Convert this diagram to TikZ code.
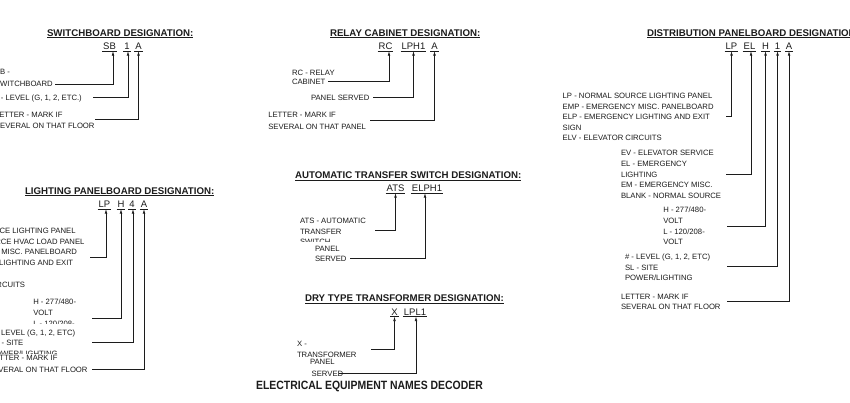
\documentclass[tikz,border=0pt]{standalone}
\usepackage{fontspec}
\setmainfont{Liberation Sans}
\usetikzlibrary{arrows.meta}
\definecolor{ink}{RGB}{28,28,28}

\begin{document}
\begin{tikzpicture}[x=1pt,y=-1pt,
  lbl/.style={inner sep=0pt,outer sep=0pt,anchor=base west,text=ink,font=\fontsize{7.7}{9.2}\selectfont},
  wipe/.style={lbl,fill=white,text depth=2pt},
  ttl/.style={inner xsep=0pt,inner ysep=1.8pt,outer sep=0pt,anchor=base west,text=ink,font=\bfseries\fontsize{9.7}{11.6}\selectfont},
  code/.style={inner xsep=1pt,inner ysep=1.5pt,outer sep=0pt,anchor=base,text=ink,font=\fontsize{9.5}{11.4}\selectfont},
  head/.style={inner sep=0pt,outer sep=0pt,anchor=base,text=ink,xscale=0.87,font=\bfseries\fontsize{12}{14.4}\selectfont},
  tline/.style={draw=ink,line width=1.1pt},
  uline/.style={draw=ink,line width=0.6pt},
  lead/.style={draw=ink,line width=0.6pt,-{Latex[length=4.5pt,width=2.6pt]}}]
\path[use as bounding box] (0,0) rectangle (850,402);
\path[fill=white,draw=none] (0,0) rectangle (850,402);
\clip (0,0) rectangle (850,402);

% switchboard
\node[ttl] (swT) at (47,36) {SWITCHBOARD DESIGNATION:};
\draw[tline] (swT.south west) -- (swT.south east);
\node[code] (swSB) at (109.5,49.5) {SB};
\node[code] (sw1) at (127,49.5) {1};
\node[code] (swA) at (138.5,49.5) {A};
\draw[uline] (swSB.south west) -- (swSB.south east);
\draw[uline] (sw1.south west) -- (sw1.south east);
\draw[uline] (swA.south west) -- (swA.south east);
\node[lbl] (swL1) at (-5,74) {SB -};
\node[lbl] (swL2) at (-5,86.7) {SWITCHBOARD};
\node[lbl] (swL3) at (-5.5,100) {\# - LEVEL (G, 1, 2, ETC.)};
\node[lbl] (swL4) at (-5,117) {LETTER - MARK IF};
\node[lbl] (swL5) at (-5,128.7) {SEVERAL ON THAT FLOOR};
\coordinate (swa) at (55,84);
\coordinate (swb) at (93,97.3);
\coordinate (swc) at (95,119.3);
\draw[lead] (swa) -| ([xshift=3.5pt]swSB.south);
\draw[lead] (swb) -| ([xshift=1pt]sw1.south);
\draw[lead] (swc) -| (swA.south);

% relay cabinet
\node[ttl] (rcT) at (330,36) {RELAY CABINET DESIGNATION:};
\draw[tline] (rcT.south west) -- (rcT.south east);
\node[code] (rcRC) at (385.5,49.5) {RC};
\node[code] (rcLPH) at (413.5,49.5) {LPH1};
\node[code] (rcA) at (434.5,49.5) {A};
\draw[uline] (rcRC.south west) -- (rcRC.south east);
\draw[uline] (rcLPH.south west) -- (rcLPH.south east);
\draw[uline] (rcA.south west) -- (rcA.south east);
\node[lbl] (rcL1) at (292,75) {RC - RELAY};
\node[lbl] (rcL2) at (292,84.7) {CABINET};
\node[lbl] (rcL3) at (311,100.3) {PANEL SERVED};
\node[lbl] (rcL4) at (268.3,117.3) {LETTER - MARK IF};
\node[lbl] (rcL5) at (268.3,129) {SEVERAL ON THAT PANEL};
\coordinate (rca) at (328,81.7);
\coordinate (rcb) at (373,97.7);
\coordinate (rcc) at (370,120);
\draw[lead] (rca) -| ([xshift=3.5pt]rcRC.south);
\draw[lead] (rcb) -| (rcLPH.south);
\draw[lead] (rcc) -| (rcA.south);

% distribution panelboard
\node[ttl] (dpT) at (647,36) {DISTRIBUTION PANELBOARD DESIGNATION:};
\draw[tline] (dpT.south west) -- (dpT.south east);
\node[code] (dpLP) at (731.5,49.5) {LP};
\node[code] (dpEL) at (749.5,49.5) {EL};
\node[code] (dpH) at (765.5,49.5) {H};
\node[code] (dp1) at (777.5,49.5) {1};
\node[code] (dpA) at (789,49.5) {A};
\draw[uline] (dpLP.south west) -- (dpLP.south east);
\draw[uline] (dpEL.south west) -- (dpEL.south east);
\draw[uline] (dpH.south west) -- (dpH.south east);
\draw[uline] (dp1.south west) -- (dp1.south east);
\draw[uline] (dpA.south west) -- (dpA.south east);
\node[lbl] (dpL1) at (562.7,98.3) {LP - NORMAL SOURCE LIGHTING PANEL};
\node[lbl] (dpL2) at (562.7,109) {EMP - EMERGENCY MISC. PANELBOARD};
\node[lbl] (dpL3) at (562.7,119.5) {ELP - EMERGENCY LIGHTING AND EXIT};
\node[lbl] (dpL4) at (562.7,130) {SIGN};
\node[lbl] (dpL5) at (562.7,140.5) {ELV - ELEVATOR CIRCUITS};
\node[lbl] (dpL6) at (621,155.7) {EV - ELEVATOR SERVICE};
\node[lbl] (dpL7) at (621,166.5) {EL - EMERGENCY};
\node[lbl] (dpL8) at (621,177) {LIGHTING};
\node[lbl] (dpL9) at (621,187.5) {EM - EMERGENCY MISC.};
\node[lbl] (dpL10) at (621,198) {BLANK - NORMAL SOURCE};
\node[lbl] (dpL11) at (663.3,212.7) {H - 277/480-};
\node[lbl] (dpL12) at (663.3,223.3) {VOLT};
\node[lbl] (dpL13) at (663.3,234) {L - 120/208-};
\node[lbl] (dpL14) at (663.3,244.5) {VOLT};
\node[lbl] (dpL15) at (625,259.3) {\# - LEVEL (G, 1, 2, ETC)};
\node[lbl] (dpL16) at (625,270) {SL - SITE};
\node[lbl] (dpL17) at (625,280) {POWER/LIGHTING};
\node[lbl] (dpL18) at (621,299) {LETTER - MARK IF};
\node[lbl] (dpL19) at (621,309.3) {SEVERAL ON THAT FLOOR};
\coordinate (dpa) at (726,116.7);
\coordinate (dpb) at (726,174);
\coordinate (dpc) at (727,226);
\coordinate (dpd) at (727,266.7);
\coordinate (dpe) at (727,301.7);
\draw[lead] (dpa) -| (dpLP.south);
\draw[lead] (dpb) -| ([xshift=1.5pt]dpEL.south);
\draw[lead] (dpc) -| (dpH.south);
\draw[lead] (dpd) -| (dp1.south);
\draw[lead] (dpe) -| (dpA.south);

% lighting panelboard
\node[ttl] (lpT) at (25,194) {LIGHTING PANELBOARD DESIGNATION:};
\draw[tline] (lpT.south west) -- (lpT.south east);
\node[code] (lpLP) at (104.5,207.5) {LP};
\node[code] (lpH) at (121,207.5) {H};
\node[code] (lp4) at (132,207.5) {4};
\node[code] (lpA) at (144,207.5) {A};
\draw[uline] (lpLP.south west) -- (lpLP.south east);
\draw[uline] (lpH.south west) -- (lpH.south east);
\draw[uline] (lp4.south west) -- (lp4.south east);
\draw[uline] (lpA.south west) -- (lpA.south east);
\node[lbl] (lpL1) at (-74,233.5) {LP - NORMAL SOURCE LIGHTING PANEL};
\node[lbl] (lpL2) at (-74,244) {HP - NORMAL SOURCE HVAC LOAD PANEL};
\node[lbl] (lpL3) at (-74,254.5) {EMP - EMERGENCY MISC. PANELBOARD};
\node[lbl] (lpL4) at (-74,265.5) {ELP - EMERGENCY LIGHTING AND EXIT};
\node[lbl] (lpL5) at (-74,287) {ELV - ELEVATOR CIRCUITS};
\node[lbl] (lpL6) at (33.3,304.3) {H - 277/480-};
\node[lbl] (lpL7) at (33.3,315.7) {VOLT};
\node[lbl] (lpL8) at (33.3,326) {L - 120/208-};
\node[wipe,text height=11pt] (lpL9) at (-10,335) {\# - LEVEL (G, 1, 2, ETC)};
\node[wipe,text height=8.7pt] (lpL10) at (-10,345.7) {SL - SITE};
\node[wipe,text height=8.7pt] (lpL11) at (-10,356.4) {POWER/LIGHTING};
\node[wipe,text height=6.7pt] (lpL12) at (-10,360.7) {LETTER - MARK IF};
\node[wipe,text height=9pt] (lpL13) at (-12,372) {SEVERAL ON THAT FLOOR};
\coordinate (lpa) at (90,257.3);
\coordinate (lpb) at (92,318.3);
\coordinate (lpc) at (92,342.7);
\coordinate (lpd) at (92,369.3);
\draw[lead] (lpa) -| ([xshift=1.5pt]lpLP.south);
\draw[lead] (lpb) -| (lpH.south);
\draw[lead] (lpc) -| ([xshift=1pt]lp4.south);
\draw[lead] (lpd) -| (lpA.south);

% automatic transfer switch
\node[ttl] (atT) at (295,178.3) {AUTOMATIC TRANSFER SWITCH DESIGNATION:};
\draw[tline] (atT.south west) -- (atT.south east);
\node[code] (atATS) at (395.5,191.5) {ATS};
\node[code] (atELPH) at (427,191.5) {ELPH1};
\draw[uline] (atATS.south west) -- (atATS.south east);
\draw[uline] (atELPH.south west) -- (atELPH.south east);
\node[lbl] (atL1) at (300,223.3) {ATS - AUTOMATIC};
\node[lbl] (atL2) at (300,234) {TRANSFER};
\node[lbl] (atL3) at (300,244.7) {SWITCH};
\node[wipe,inner xsep=17pt,text height=9pt] (atL4) at (298,251) {PANEL};
\node[lbl] (atL5) at (315,261.7) {SERVED};
\coordinate (ata) at (375,230.7);
\coordinate (atb) at (350,258.7);
\draw[lead] (ata) -| (atATS.south);
\draw[lead] (atb) -| ([xshift=-2pt]atELPH.south);

% dry type transformer
\node[ttl] (xfT) at (305,301.7) {DRY TYPE TRANSFORMER DESIGNATION:};
\draw[tline] (xfT.south west) -- (xfT.south east);
\node[code] (xfX) at (394.5,315) {X};
\node[code] (xfLPL) at (415,315) {LPL1};
\draw[uline] (xfX.south west) -- (xfX.south east);
\draw[uline] (xfLPL.south west) -- (xfLPL.south east);
\node[lbl] (xfL1) at (297,346.7) {X -};
\node[lbl] (xfL2) at (297,357) {TRANSFORMER};
\node[lbl] (xfL3) at (310,364.5) {PANEL};
\node[lbl] (xfL4) at (311.7,376.3) {SERVED};
\coordinate (xfa) at (371,349.3);
\coordinate (xfb) at (339,373.3);
\draw[lead] (xfa) -| (xfX.south);
\draw[lead] (xfb) -| ([xshift=1pt]xfLPL.south);

\node[head] (main) at (369.5,389.5) {ELECTRICAL EQUIPMENT NAMES DECODER};
\end{tikzpicture}
\end{document}
